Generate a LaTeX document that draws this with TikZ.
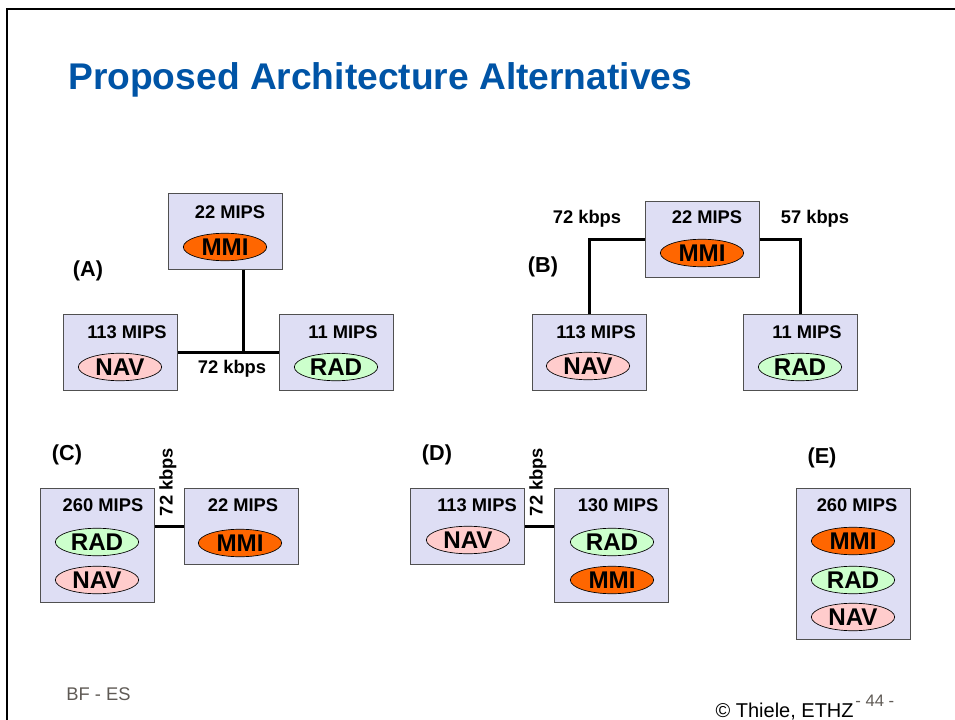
\documentclass[tikz,border=0pt]{standalone}
\usepackage{fontspec}
\setmainfont{Liberation Sans}
\usetikzlibrary{shapes.geometric}
\definecolor{boxfill}{RGB}{222,222,244}
\definecolor{boxline}{RGB}{80,80,80}
\definecolor{mmi}{RGB}{255,102,0}
\definecolor{rad}{RGB}{204,255,204}
\definecolor{nav}{RGB}{255,204,204}
\definecolor{titleblue}{RGB}{0,84,166}
\definecolor{footgrey}{RGB}{95,90,85}
\begin{document}
\begin{tikzpicture}[x=0.6pt,y=-0.6pt,
  cpu/.style={draw=boxline,line width=0.6pt,fill=boxfill,minimum width=68.4pt,minimum height=45.6pt,inner sep=0pt},
  task/.style={ellipse,draw=black,line width=0.4pt,minimum width=50pt,minimum height=16.5pt,inner sep=0pt,font=\fontsize{14.5}{16}\selectfont\bfseries},
  mips/.style={font=\fontsize{11}{12}\selectfont\bfseries,inner sep=0pt},
  rate/.style={font=\fontsize{11}{12}\selectfont\bfseries,inner sep=0pt},
  alt/.style={font=\fontsize{13}{15}\selectfont\bfseries,inner sep=0pt},
  bus/.style={line width=1.8pt}]
  \useasboundingbox (0,0) rectangle (955,720);
  \draw[line width=1.2pt] (7,720) -- (7,9) -- (955,9);
  \node[anchor=base west,inner sep=0pt,text=titleblue,font=\fontsize{22.3}{26}\selectfont\bfseries] (title) at (68,90) {Proposed Architecture Alternatives};

  \node[cpu] (ammi) at (225,231) {};
  \node[cpu] (anav) at (120,352.5) {};
  \node[cpu] (arad) at (336,352.5) {};
  \coordinate (abus) at (243,352.5);
  \draw[bus] (anav.east) -- (arad.west);
  \draw[bus] (ammi.south -| abus) -- (abus);
  \node[mips] (ammimips) at (230,212) {22 MIPS};
  \node[task,fill=mmi] (ammitask) at (225,247) {MMI};
  \node[mips] (anavmips) at (127,332) {113 MIPS};
  \node[task,fill=nav] (anavtask) at (120,367) {NAV};
  \node[mips] (aradmips) at (343,332) {11 MIPS};
  \node[task,fill=rad] (aradtask) at (336,367) {RAD};
  \node[rate,anchor=base] (arate) at (232,373) {72 kbps};
  \node[alt] (alta) at (88,271) {(A)};

  \node[cpu] (bmmi) at (702,239) {};
  \node[cpu] (bnav) at (589.5,352) {};
  \node[cpu] (brad) at (800,352) {};
  \draw[bus] (bmmi.west) -| (bnav.north);
  \draw[bus] (bmmi.east) -| (brad.north);
  \node[mips] (bmmimips) at (707,217) {22 MIPS};
  \node[task,fill=mmi] (bmmitask) at (702,253) {MMI};
  \node[mips] (bnavmips) at (596,332) {113 MIPS};
  \node[task,fill=nav] (bnavtask) at (588,366) {NAV};
  \node[mips] (bradmips) at (807,332) {11 MIPS};
  \node[task,fill=rad] (bradtask) at (800,367) {RAD};
  \node[rate,anchor=base] (brateleft) at (587,223) {72 kbps};
  \node[rate,anchor=base] (brateright) at (815,223) {57 kbps};
  \node[alt] (altb) at (543,267) {(B)};

  \node[cpu,minimum height=68.4pt] (cleft) at (97,545) {};
  \node[cpu] (cright) at (241,526) {};
  \draw[bus] (cright.west) -- (cright.west -| cleft.east);
  \node[mips] (cleftmips) at (103,505) {260 MIPS};
  \node[task,fill=rad] (cradtask) at (97,542) {RAD};
  \node[task,fill=nav] (cnavtask) at (97,580) {NAV};
  \node[mips] (crightmips) at (243,505) {22 MIPS};
  \node[task,fill=mmi] (cmmitask) at (240,543) {MMI};
  \node[rate,rotate=90] (crate) at (168,482) {72 kbps};
  \node[alt] (altc) at (67,455) {(C)};

  \node[cpu] (dleft) at (467.5,526) {};
  \node[cpu,minimum height=68.4pt] (dright) at (611,545) {};
  \draw[bus] (dleft.east) -- (dleft.east -| dright.west);
  \node[mips] (dleftmips) at (477,505) {113 MIPS};
  \node[task,fill=nav] (dnavtask) at (468,540) {NAV};
  \node[mips] (drightmips) at (618,505) {130 MIPS};
  \node[task,fill=rad] (dradtask) at (612,542) {RAD};
  \node[task,fill=mmi] (dmmitask) at (612,580) {MMI};
  \node[rate,rotate=90] (drate) at (538,482) {72 kbps};
  \node[alt] (altd) at (437,455) {(D)};

  \node[cpu,minimum height=90.6pt] (ebox) at (853.5,563.5) {};
  \node[mips] (emips) at (857,505) {260 MIPS};
  \node[task,fill=mmi] (emmitask) at (853,541) {MMI};
  \node[task,fill=rad] (eradtask) at (853,580) {RAD};
  \node[task,fill=nav] (enavtask) at (853,617) {NAV};
  \node[alt] (alte) at (822,458) {(E)};

  \node[anchor=base west,inner sep=0pt,text=footgrey,font=\fontsize{11}{13}\selectfont] (course) at (66,700) {BF - ES};
  \node[anchor=base east,inner sep=0pt,font=\fontsize{12}{14}\selectfont] (copy) at (854,717) {© Thiele, ETHZ};
  \node[anchor=base west,inner sep=0pt,text=footgrey,font=\fontsize{10}{12}\selectfont] (page) at (855,706) {- 44 -};
\end{tikzpicture}
\end{document}
